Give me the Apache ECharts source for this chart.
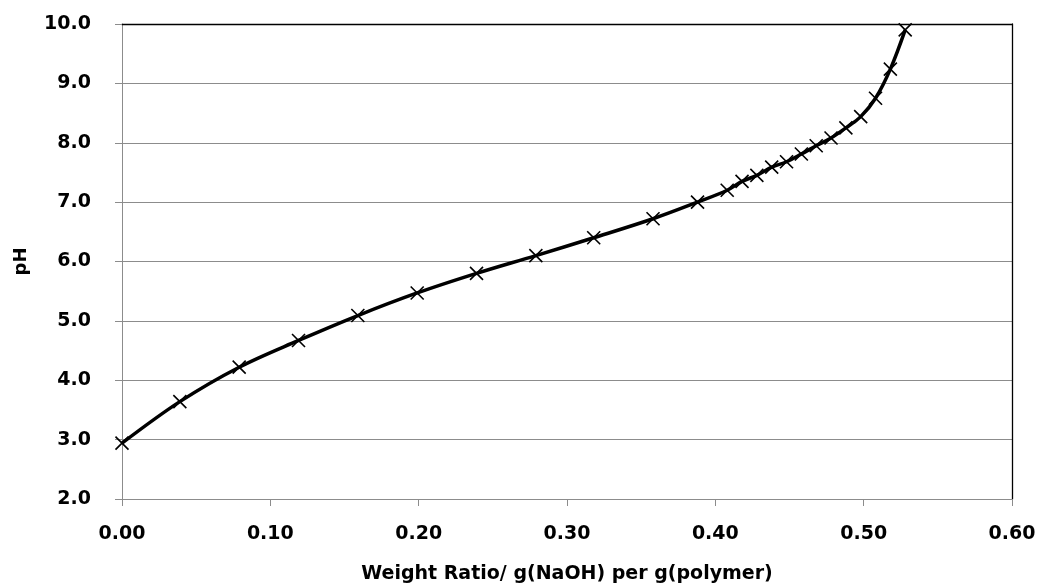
<!DOCTYPE html>
<html>
<head>
<meta charset="utf-8">
<title>pH titration curve</title>
<script src="https://cdn.jsdelivr.net/npm/echarts@6/dist/echarts.min.js"></script>
<style>
  html, body { margin: 0; padding: 0; background: #fff; }
  #main { width: 1039px; height: 588px; }
</style>
</head>
<body>
<div id="main"></div>
<script>
// values
var weightRatio = [0, 0.039, 0.079, 0.119, 0.159, 0.199, 0.239, 0.279, 0.318, 0.358,
                   0.388, 0.408, 0.418, 0.428, 0.438, 0.448, 0.458, 0.468, 0.478, 0.488,
                   0.498, 0.508, 0.518, 0.528];
var phValues = [2.94, 3.64, 4.22, 4.67, 5.09, 5.47, 5.80, 6.10, 6.40, 6.72,
                7.00, 7.20, 7.35, 7.45, 7.59, 7.68, 7.81, 7.95, 8.08, 8.25,
                8.44, 8.75, 9.24, 9.90];
var xTitle = 'Weight Ratio/ g(NaOH) per g(polymer)';
var yTitle = 'pH';

var points = weightRatio.map(function (x, i) { return [x, phValues[i]]; });

var font = 'DejaVu Sans';
var grey = '#8c8c8c';

var myChart = echarts.init(document.getElementById('main'));

var option = {
    animation: false,
    backgroundColor: '#fff',
    grid: { left: 122, right: 27, top: 24, bottom: 89, containLabel: false, outerBoundsMode: 'none' },
    xAxis: [
        {
            type: 'value',
            min: 0, max: 0.6, interval: 0.1,
            name: xTitle,
            nameLocation: 'middle',
            nameGap: 66,
            nameTextStyle: { fontFamily: font, fontWeight: 'bold', fontSize: 19, color: '#000' },
            axisLine: { show: true, lineStyle: { color: grey, width: 1 } },
            axisTick: { show: true, length: 7, lineStyle: { color: grey } },
            axisLabel: {
                margin: 26, fontFamily: font, fontWeight: 'bold', fontSize: 19, color: '#000',
                formatter: function (v) { return v.toFixed(2); }
            },
            splitLine: { show: false }
        },
        {
            type: 'value', position: 'top',
            min: 0, max: 0.6,
            axisLine: { show: true, onZero: false, lineStyle: { color: '#000', width: 1.3 } },
            axisTick: { show: false }, axisLabel: { show: false }, splitLine: { show: false }
        }
    ],
    yAxis: [
        {
            type: 'value',
            min: 2, max: 10, interval: 1,
            name: yTitle,
            nameLocation: 'middle',
            nameGap: 92,
            nameRotate: 90,
            nameTextStyle: { fontFamily: font, fontWeight: 'bold', fontSize: 18, color: '#000' },
            axisLine: { show: true, lineStyle: { color: grey, width: 1 } },
            axisTick: { show: true, length: 7, lineStyle: { color: grey } },
            axisLabel: {
                margin: 31, fontFamily: font, fontWeight: 'bold', fontSize: 19, color: '#000',
                formatter: function (v) { return v.toFixed(1); }
            },
            splitLine: { show: true, lineStyle: { color: grey, width: 1 } }
        },
        {
            type: 'value', position: 'right',
            min: 2, max: 10,
            axisLine: { show: true, onZero: false, lineStyle: { color: '#000', width: 1.3 } },
            axisTick: { show: false }, axisLabel: { show: false }, splitLine: { show: false }
        }
    ],
    series: [
        {
            type: 'line',
            data: points,
            smooth: 0.35,
            clip: false,
            symbol: 'path://M0,0L10,10M10,0L0,10',
            symbolSize: 13,
            showAllSymbol: true,
            lineStyle: { color: '#000', width: 3.5 },
            itemStyle: { color: '#000', borderColor: '#000', borderWidth: 1.6 },
            z: 5
        }
    ]
};

myChart.setOption(option);
</script>
</body>
</html>
